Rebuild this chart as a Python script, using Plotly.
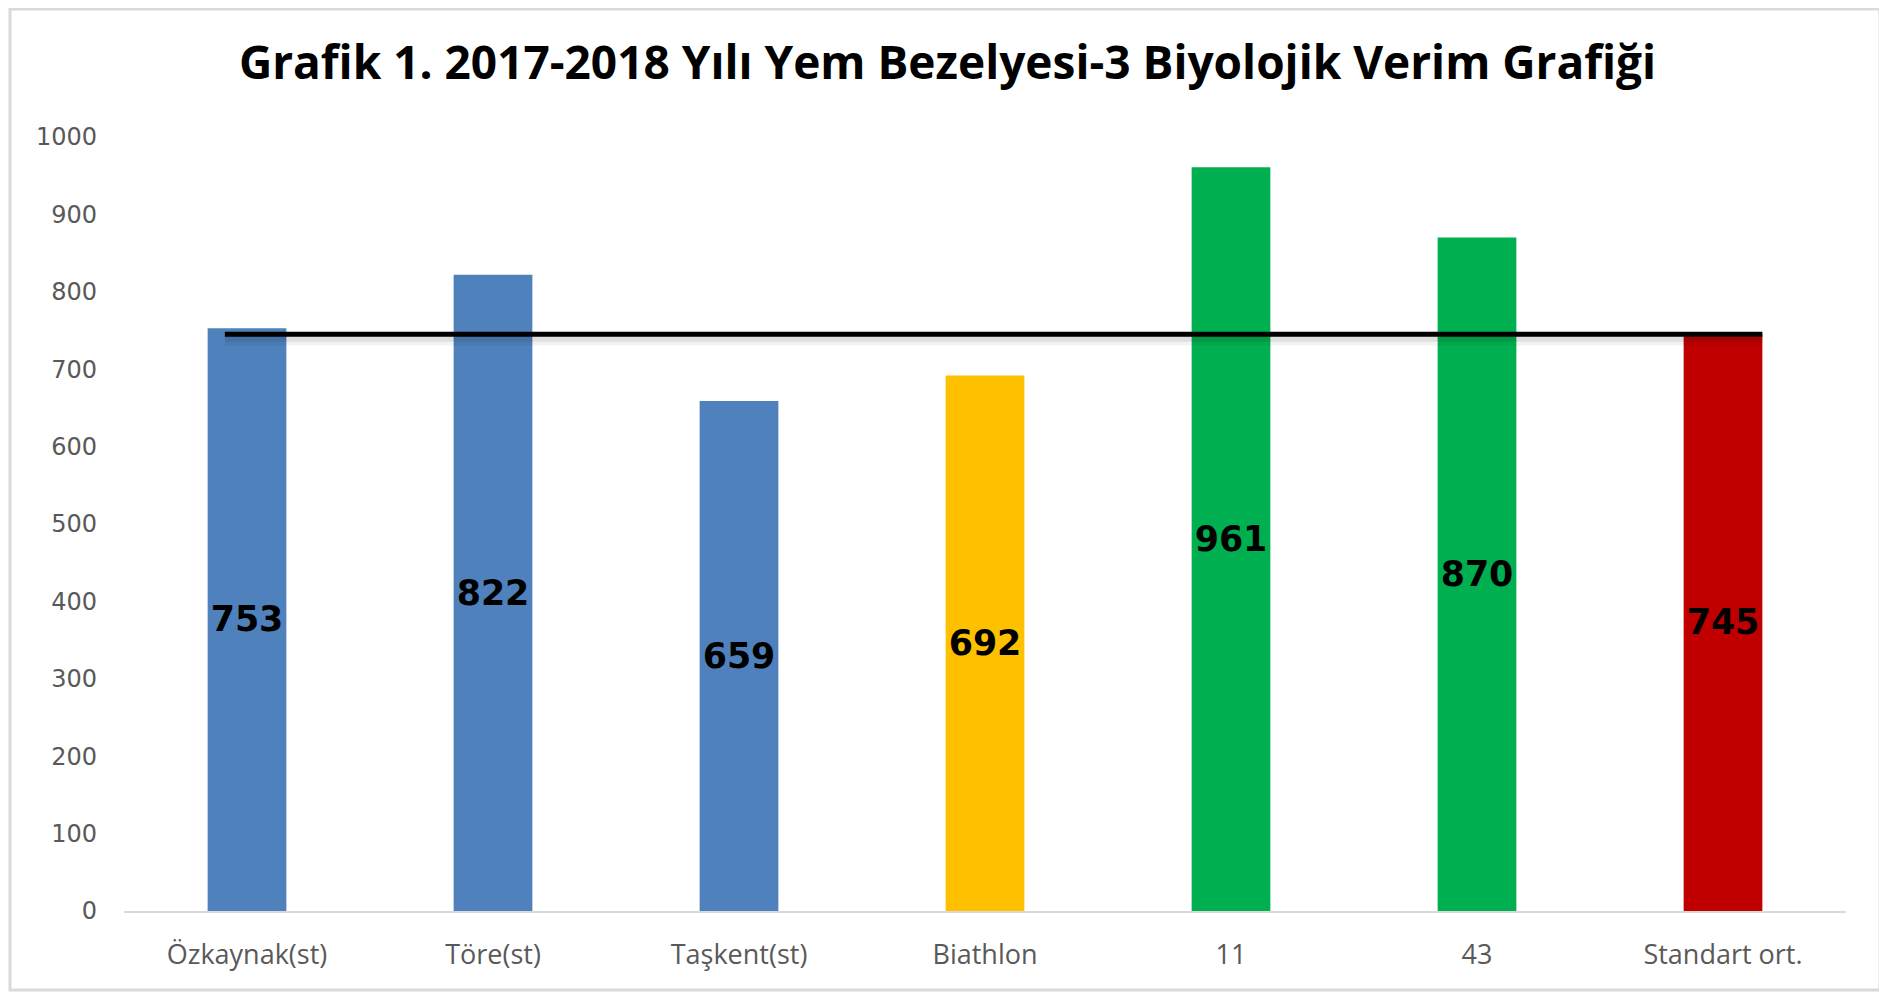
import plotly.graph_objects as go

# veriler
cesitler = ['Özkaynak(st)', 'Töre(st)', 'Taşkent(st)', 'Biathlon', '11', '43', 'Standart ort.']
verim = [753, 822, 659, 692, 961, 870, 745]
renkler = ['#4F81BD', '#4F81BD', '#4F81BD', '#FFC000', '#00B050', '#00B050', '#C00000']
standart_ort = verim[-1]
y_ticks = [0, 100, 200, 300, 400, 500, 600, 700, 800, 900, 1000]

# sayfa gövdesinin 8px kenar boşluğu hesaba katılıyor
OFF = 8
W, H = 1887 - OFF, 994 - OFF
ML, MT = 124 - OFF, 137 - OFF
PW, PH = 1722, 774
MR, MB = W - ML - PW, H - MT - PH


def px_x(p):
    return (p - OFF - ML) / PW


def px_y(p):
    return (MT + PH - (p - OFF)) / PH


fig = go.Figure()
fig.add_trace(go.Bar(
    x=cesitler, y=verim,
    marker={'color': renkler, 'line': {'width': 0}},
    text=[str(v) for v in verim],
    textposition='inside', insidetextanchor='middle',
    textfont={'family': 'DejaVu Sans', 'size': 37, 'color': 'black', 'weight': 'bold'},
    textangle=0,
    hoverinfo='skip',
))

# standart ortalama çizgisi (yumuşak gölgeli)
for kayma, genislik, renk in [(8, 10, 'rgba(0,0,0,0.05)'), (5, 7, 'rgba(0,0,0,0.08)')]:
    fig.add_shape(type='line', xref='x', yref='y', x0=-0.09, x1=6.16,
                  y0=standart_ort - kayma, y1=standart_ort - kayma,
                  line={'color': renk, 'width': genislik})
fig.add_shape(type='line', xref='x', yref='y', x0=-0.09, x1=6.16,
              y0=standart_ort, y1=standart_ort,
              line={'color': 'black', 'width': 5})

# dış çerçeve
fig.add_shape(type='rect', xref='paper', yref='paper',
              x0=px_x(10), x1=px_x(1880), y0=px_y(990), y1=px_y(9),
              line={'color': '#D9D9D9', 'width': 3}, layer='below')

fig.update_layout(
    width=W, height=H,
    margin={'l': ML, 'r': MR, 't': MT, 'b': MB},
    paper_bgcolor='white', plot_bgcolor='white',
    showlegend=False,
    bargap=0.68,
    title={
        'text': '<b>Grafik 1. 2017-2018 Yılı Yem Bezelyesi-3 Biyolojik Verim Grafiği</b>',
        'font': {'family': 'Open Sans', 'size': 46, 'color': 'black'},
        'x': 0.5, 'xanchor': 'center', 'xref': 'container',
        'y': 1 - (63 - OFF) / H, 'yanchor': 'middle', 'yref': 'container',
    },
    xaxis={
        'showgrid': False, 'zeroline': False,
        'showline': True, 'linecolor': '#D9D9D9', 'linewidth': 2,
        'ticks': '', 'ticklabelstandoff': 19,
        'tickfont': {'family': 'Open Sans', 'size': 27, 'color': '#595959'},
    },
    yaxis={
        'range': [0, 1000], 'tickvals': y_ticks,
        'showgrid': False, 'zeroline': False, 'showline': False,
        'ticks': '', 'ticklabelstandoff': 26,
        'tickfont': {'family': 'DejaVu Sans', 'size': 24, 'color': '#595959'},
    },
)

fig.write_html('out.html')
